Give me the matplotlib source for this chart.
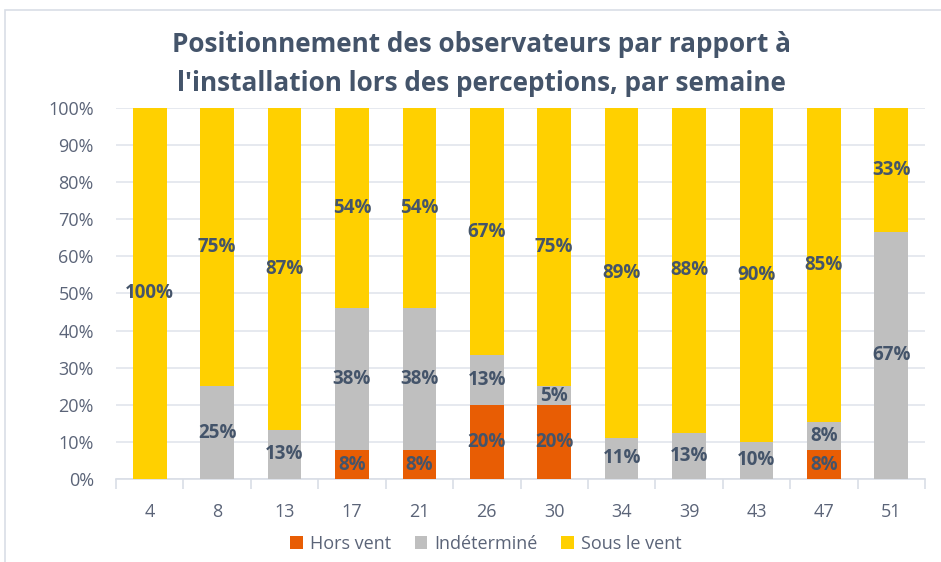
import matplotlib
matplotlib.use("Agg")
import matplotlib.pyplot as plt
from matplotlib.patches import Rectangle
import numpy as np

# données par semaine (en %)
semaines = ["4", "8", "13", "17", "21", "26", "30", "34", "39", "43", "47", "51"]
hors_vent = [0, 0, 0, 7.69, 7.69, 20, 20, 0, 0, 0, 7.69, 0]
indetermine = [0, 25, 13.33, 38.46, 38.46, 13.33, 5, 11.11, 12.5, 10, 7.69, 66.67]
sous_le_vent = [100, 75, 86.67, 53.85, 53.85, 66.67, 75, 88.89, 87.5, 90, 84.62, 33.33]

series_noms = ["Hors vent", "Indéterminé", "Sous le vent"]
couleurs = ["#E85D04", "#BFBFBF", "#FFD000"]
txt = "#44546A"

plt.rcParams['font.family'] = ['Open Sans', 'DejaVu Sans']

fig = plt.figure(figsize=(9.41, 5.62), dpi=100)
fig.patches.append(Rectangle((5 / 941, -0.01), 1.0, 1 - 10 / 562 + 0.01,
                             transform=fig.transFigure, fill=False,
                             edgecolor="#D9DEE6", linewidth=1.2))
ax = fig.add_axes([116 / 941, 1 - 479 / 562, (925 - 116) / 941, (479 - 108) / 562])

x = np.arange(len(semaines))
bas = np.zeros(len(semaines))
for vals, nom, c in zip([hors_vent, indetermine, sous_le_vent], series_noms, couleurs):
    vals = np.array(vals)
    ax.bar(x, vals, 0.5, bottom=bas, color=c, label=nom, zorder=3)
    for xi, b, v in zip(x, bas, vals):
        if v > 0:
            ax.text(xi, b + v / 2, f"{int(v + 0.5)}%", ha="center", va="center",
                    fontsize=13.5, fontweight="bold", color=txt, zorder=4)
    bas += vals

ax.set_ylim(0, 100)
ax.set_xlim(-0.5, len(semaines) - 0.5)
ax.set_yticks(np.arange(0, 101, 10))
ax.set_yticklabels([f"{v}%" for v in range(0, 101, 10)])
ax.set_xticks(x)
ax.set_xticklabels(semaines)
ax.set_xticks(np.arange(-0.5, len(semaines), 1), minor=True)
ax.tick_params(axis="x", which="major", length=0, pad=17, labelsize=13, labelcolor="#5B6478")
ax.tick_params(axis="x", which="minor", length=7, color="#D9DEE6", width=1.2)
ax.tick_params(axis="y", length=0, pad=16, labelsize=13, labelcolor="#5B6478")
ax.grid(axis="y", color="#E1E5EC", linewidth=1.2, zorder=0)
for s in ["top", "right", "left"]:
    ax.spines[s].set_visible(False)
ax.spines["bottom"].set_color("#D9DEE6")
ax.spines["bottom"].set_linewidth(1.2)

fig.text(481 / 941, 1 - 64 / 562,
         "Positionnement des observateurs par rapport à\nl'installation lors des perceptions, par semaine",
         ha="center", va="center", fontsize=18.8, fontweight="bold", color=txt, linespacing=1.55)

fig.legend(loc="center", bbox_to_anchor=(486 / 941, 1 - 544 / 562), ncol=3, frameon=False,
           fontsize=13, labelcolor="#5B6478", handlelength=0.7, handleheight=0.7,
           handletextpad=0.4, columnspacing=1.3)

fig.savefig("out.png", dpi=100)
